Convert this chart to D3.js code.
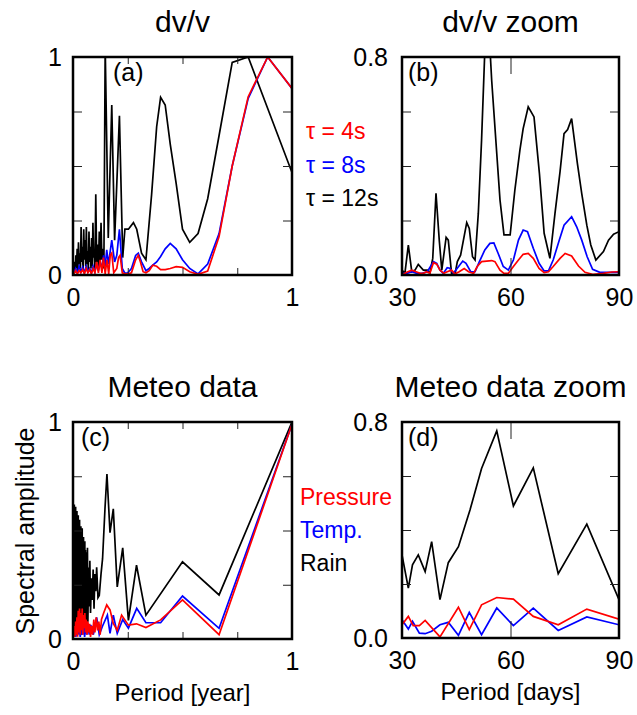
<!DOCTYPE html>
<html>
<head>
<meta charset="utf-8">
<script src="https://cdn.jsdelivr.net/npm/d3@7"></script>
<style>
  body { margin: 0; background: #fff; }
  svg { display: block; }
  text { font-family: "Liberation Sans", Arial, Helvetica, sans-serif; fill: #000; }
</style>
</head>
<body>
<svg id="fig" width="637" height="715"></svg>
<script>
// ---- Spectra of dv/v, [period in years, normalised amplitude] ----
const dvvTau12 = [
  [0.004,0.02],[0.007,0.06],[0.010,0.01],[0.013,0.09],[0.016,0.03],[0.019,0.12],[0.022,0.02],
  [0.025,0.15],[0.028,0.05],[0.031,0.10],[0.034,0.03],[0.037,0.22],[0.040,0.06],[0.043,0.13],
  [0.046,0.02],[0.049,0.21],[0.052,0.07],[0.055,0.16],[0.058,0.04],[0.061,0.22],[0.064,0.05],
  [0.067,0.11],[0.070,0.02],[0.073,0.20],[0.076,0.06],[0.079,0.13],[0.082,0.03],[0.085,0.17],
  [0.088,0.04],[0.091,0.24],[0.094,0.08],[0.097,0.10],[0.100,0.03],[0.104,0.37],[0.108,0.06],
  [0.112,0.14],[0.116,0.03],[0.120,0.20],[0.124,0.05],[0.128,0.24],[0.132,0.07],[0.136,0.12],
  [0.141,0.03],[0.147,1.05],[0.161,0.17],[0.177,0.78],[0.190,0.16],[0.212,0.73],[0.227,0.08],
  [0.237,0.21],[0.253,0.21],[0.276,0.24],[0.291,0.21],[0.313,0.10],[0.333,0.07],[0.359,0.37],
  [0.382,0.68],[0.400,0.815],[0.421,0.78],[0.444,0.60],[0.471,0.42],[0.500,0.21],[0.533,0.15],
  [0.571,0.19],[0.615,0.35],[0.667,0.64],[0.727,0.975],[0.800,1.00],[1.000,0.47]
];
const dvvTau8 = [
  [0.004,0.01],[0.012,0.03],[0.020,0.01],[0.028,0.04],[0.036,0.015],[0.044,0.035],[0.052,0.01],
  [0.060,0.04],[0.068,0.015],[0.076,0.03],[0.084,0.01],[0.092,0.04],[0.100,0.015],[0.108,0.05],
  [0.116,0.02],[0.124,0.06],[0.132,0.03],[0.140,0.09],[0.147,0.04],[0.154,0.115],[0.162,0.05],
  [0.177,0.16],[0.190,0.06],[0.200,0.09],[0.212,0.21],[0.225,0.03],[0.237,0.008],[0.250,0.01],
  [0.267,0.03],[0.286,0.09],[0.298,0.10],[0.313,0.06],[0.333,0.02],[0.348,0.03],[0.364,0.045],
  [0.382,0.06],[0.400,0.085],[0.421,0.12],[0.444,0.145],[0.471,0.12],[0.500,0.07],[0.533,0.03],
  [0.571,0.005],[0.615,0.05],[0.667,0.19],[0.727,0.50],[0.800,0.81],[0.889,1.00],[1.000,0.856]
];
const dvvTau4 = [
  [0.004,0.005],[0.012,0.02],[0.020,0.005],[0.028,0.02],[0.036,0.01],[0.044,0.025],[0.052,0.005],
  [0.060,0.03],[0.068,0.01],[0.076,0.025],[0.084,0.005],[0.092,0.03],[0.100,0.01],[0.108,0.06],
  [0.116,0.01],[0.124,0.07],[0.132,0.01],[0.139,0.08],[0.147,0.005],[0.155,0.07],[0.163,0.005],
  [0.170,0.09],[0.177,0.10],[0.186,0.01],[0.200,0.03],[0.208,0.08],[0.215,0.09],[0.225,0.01],
  [0.237,0.005],[0.250,0.005],[0.267,0.01],[0.286,0.07],[0.298,0.09],[0.308,0.06],[0.320,0.015],
  [0.333,0.01],[0.348,0.02],[0.364,0.045],[0.382,0.04],[0.400,0.025],[0.421,0.025],[0.444,0.03],
  [0.471,0.038],[0.500,0.035],[0.533,0.015],[0.571,0.003],[0.615,0.018],[0.667,0.176],
  [0.727,0.50],[0.800,0.818],[0.889,1.00],[1.000,0.856]
];

// ---- dv/v spectra, 30-90 day band, [period in days, amplitude] ----
const zoomTau12 = [
  [30,0.018],[30.8,0.006],[31.75,0.11],[32.7,0.012],[33.6,0.018],[34.5,0.039],[35.9,0.018],
  [37.0,0.018],[37.7,0.006],[38.5,0.061],[39.4,0.30],[40.3,0.128],[41.0,0.018],[42.2,0.138],
  [42.8,0.128],[43.7,0.006],[44.7,0.006],[45.3,0.049],[46.2,0.073],[47.9,0.192],[48.6,0.171],
  [49.5,0.067],[50.2,0.055],[51.1,0.226],[52.0,0.495],[53.0,0.86],[54.2,0.86],[54.8,0.714],
  [56.2,0.446],[57.1,0.275],[58.2,0.147],[59.9,0.147],[61.2,0.311],[62.6,0.458],[63.5,0.537],
  [64.9,0.617],[66.5,0.58],[68.0,0.372],[69.3,0.153],[70.9,0.061],[72.3,0.226],[73.7,0.379],
  [74.8,0.519],[75.8,0.534],[76.9,0.574],[78.5,0.409],[79.7,0.299],[81.1,0.183],[82.2,0.11],
  [83.6,0.055],[85.7,0.086],[87.1,0.128],[88.5,0.15],[90,0.159]
];
const zoomTau8 = [
  [30,0.006],[31.4,0.006],[32.7,0.012],[34.1,0.006],[35.5,0.006],[37.0,0.012],[38.7,0.049],
  [39.6,0.043],[40.5,0.018],[41.4,0.006],[42.5,0.027],[43.2,0.025],[44.2,0.006],[45.6,0.03],
  [46.8,0.051],[47.7,0.043],[49.0,0.012],[50.2,0.012],[51.4,0.049],[52.9,0.092],[54.3,0.116],
  [55.4,0.118],[56.6,0.079],[58.0,0.031],[59.4,0.018],[60.8,0.055],[62.2,0.128],[63.5,0.165],
  [64.7,0.159],[66.3,0.098],[67.9,0.043],[69.3,0.015],[70.5,0.015],[71.8,0.055],[73.5,0.128],
  [74.8,0.183],[76.9,0.214],[78.3,0.177],[79.7,0.128],[81.2,0.067],[82.7,0.021],[84.7,0.01],
  [86.6,0.01],[90,0.01]
];
const zoomTau4 = [
  [30,0.0],[31.3,0.01],[32.7,0.018],[33.9,0.012],[35.0,0.006],[35.9,0.006],[36.8,0.012],
  [37.7,0.006],[38.7,0.045],[39.6,0.04],[40.5,0.018],[41.6,0.006],[42.5,0.012],[43.7,0.018],
  [44.6,0.004],[45.8,0.012],[47.2,0.024],[48.4,0.012],[49.8,0.006],[50.8,0.031],[52.0,0.049],
  [53.4,0.051],[54.8,0.053],[55.7,0.049],[57.1,0.018],[58.2,0.006],[59.4,0.006],[60.8,0.031],
  [62.2,0.055],[63.5,0.076],[64.9,0.079],[66.3,0.061],[67.9,0.024],[69.3,0.009],[70.5,0.012],
  [71.8,0.031],[73.7,0.061],[75.1,0.079],[76.9,0.07],[78.8,0.033],[80.6,0.01],[82.9,0.002],
  [85.7,0.006],[88.0,0.011],[90,0.012]
];

// ---- Meteorological spectra, [period in years, amplitude] ----
const meteoRain = [
  [0.0015,0.08],[0.003,0.60],[0.0045,0.04],[0.006,0.62],[0.0075,0.10],[0.009,0.58],[0.0105,0.03],
  [0.012,0.61],[0.0135,0.07],[0.015,0.57],[0.0165,0.12],[0.018,0.59],[0.0195,0.04],[0.021,0.55],
  [0.0225,0.09],[0.024,0.57],[0.0255,0.03],[0.027,0.53],[0.0285,0.11],[0.030,0.55],[0.0315,0.05],
  [0.033,0.50],[0.0345,0.08],[0.036,0.52],[0.0375,0.02],[0.039,0.49],[0.0405,0.10],[0.042,0.51],
  [0.0435,0.04],[0.045,0.46],[0.0465,0.12],[0.048,0.47],[0.0495,0.05],[0.051,0.43],[0.0525,0.09],
  [0.054,0.45],[0.0555,0.03],[0.057,0.41],[0.0585,0.12],[0.060,0.40],[0.0615,0.05],[0.063,0.37],
  [0.0645,0.10],[0.066,0.42],[0.068,0.08],[0.071,0.33],[0.074,0.15],[0.077,0.36],[0.080,0.12],
  [0.084,0.28],[0.088,0.18],[0.092,0.32],[0.096,0.14],[0.100,0.30],[0.104,0.22],[0.108,0.33],
  [0.114,0.19],[0.120,0.20],[0.128,0.30],[0.135,0.37],[0.146,0.60],[0.155,0.76],[0.169,0.49],
  [0.184,0.60],[0.202,0.24],[0.227,0.42],[0.253,0.086],[0.290,0.34],[0.333,0.11],[0.500,0.356],
  [0.667,0.203],[1.000,1.00]
];
const meteoTemp = [
  [0.003,0.01],[0.008,0.04],[0.013,0.01],[0.018,0.05],[0.023,0.02],[0.028,0.06],[0.033,0.01],
  [0.038,0.05],[0.043,0.02],[0.048,0.07],[0.053,0.01],[0.058,0.06],[0.063,0.02],[0.068,0.07],
  [0.074,0.02],[0.081,0.065],[0.093,0.02],[0.108,0.10],[0.120,0.02],[0.135,0.06],[0.157,0.11],
  [0.169,0.026],[0.184,0.11],[0.202,0.026],[0.227,0.09],[0.253,0.05],[0.291,0.141],[0.333,0.075],
  [0.400,0.075],[0.500,0.198],[0.667,0.049],[1.000,0.99]
];
const meteoPressure = [
  [0.003,0.02],[0.006,0.06],[0.009,0.01],[0.012,0.08],[0.015,0.02],[0.018,0.10],[0.021,0.01],
  [0.024,0.13],[0.027,0.03],[0.030,0.14],[0.033,0.02],[0.036,0.12],[0.039,0.04],[0.042,0.14],
  [0.045,0.02],[0.048,0.11],[0.051,0.05],[0.054,0.12],[0.057,0.03],[0.060,0.09],[0.064,0.02],
  [0.068,0.08],[0.072,0.03],[0.076,0.07],[0.080,0.01],[0.085,0.06],[0.090,0.02],[0.095,0.09],
  [0.100,0.03],[0.106,0.10],[0.112,0.04],[0.118,0.08],[0.124,0.02],[0.130,0.09],[0.140,0.12],
  [0.154,0.157],[0.169,0.134],[0.184,0.072],[0.202,0.04],[0.222,0.11],[0.253,0.064],[0.290,0.07],
  [0.333,0.053],[0.400,0.088],[0.500,0.18],[0.667,0.02],[1.000,0.99]
];

// ---- Meteorological spectra, 30-90 day band, [period in days, amplitude] ----
const zoomRain = [
  [30,0.308],[31.75,0.185],[32.9,0.271],[34.5,0.308],[36.4,0.246],[38.2,0.357],[40.5,0.142],
  [42.8,0.279],[45.6,0.338],[48.8,0.474],[52.0,0.628],[56.2,0.767],[60.8,0.489],[66.3,0.63],
  [73.2,0.238],[81.1,0.422],[90,0.142]
];
const zoomPressure = [
  [30,0.049],[31.75,0.08],[33.1,0.046],[34.8,0.046],[36.4,0.065],[40.5,0.004],[45.6,0.114],
  [48.6,0.031],[52.0,0.123],[56.2,0.15],[60.8,0.144],[66.3,0.08],[73.2,0.049],[81.1,0.107],
  [90,0.07]
];
const zoomTemp = [
  [30,0.068],[31.75,0.033],[32.9,0.062],[34.8,0.018],[36.4,0.016],[38.2,0.025],[40.5,0.049],
  [42.8,0.058],[45.6,0.01],[48.6,0.095],[52.0,0.012],[56.2,0.111],[60.8,0.046],[66.3,0.111],
  [73.2,0.028],[81.1,0.078],[90,0.049]
];

// ---- Axis ticks and labels ----
const yearTickLabels = [0, 1];
const yearInnerTicks = [0.25, 0.5, 0.75];
const unitTickLabels = [0, 1];
const unitInnerTicks = [0.25, 0.5, 0.75];
const dayTickLabels = [30, 60, 90];
const dayInnerTicks = [60];
const zoomAmpTickLabels = [0, 0.8];
const zoomAmpInnerTicks = [0.2, 0.4, 0.6];

const dvvLegend = ["\u03c4 = 4s", "\u03c4 = 8s", "\u03c4 = 12s"];
const meteoLegend = ["Pressure", "Temp.", "Rain"];
const RED = "#ff0000", BLUE = "#0000ff", BLACK = "#000000";

const svg = d3.select("#fig");

const panels = [
  { key: "a", title: "dv/v", box: [73, 57, 292, 275],
    xDomain: [0, 1], yDomain: [0, 1],
    xLabels: yearTickLabels, xFmt: d3.format("d"), xInner: yearInnerTicks, xInnerLen: 7,
    yLabels: unitTickLabels, yFmt: d3.format("d"), yInner: unitInnerTicks, yPad: 11,
    tag: [113, 81],
    series: [[dvvTau12, BLACK], [dvvTau8, BLUE], [dvvTau4, RED]] },
  { key: "b", title: "dv/v zoom", box: [402, 57, 619, 275],
    xDomain: [30, 90], yDomain: [0, 0.8],
    xLabels: dayTickLabels, xFmt: d3.format("d"), xInner: dayInnerTicks, xInnerLen: 17,
    yLabels: zoomAmpTickLabels, yFmt: d3.format(".1f"), yInner: zoomAmpInnerTicks, yPad: 14,
    tag: [408, 81],
    series: [[zoomTau12, BLACK], [zoomTau8, BLUE], [zoomTau4, RED]] },
  { key: "c", title: "Meteo data", box: [73, 422, 292, 639],
    xDomain: [0, 1], yDomain: [0, 1],
    xLabels: yearTickLabels, xFmt: d3.format("d"), xInner: yearInnerTicks, xInnerLen: 7,
    yLabels: unitTickLabels, yFmt: d3.format("d"), yInner: unitInnerTicks, yPad: 11,
    tag: [81, 446], xTitle: "Period [year]",
    series: [[meteoRain, BLACK], [meteoTemp, BLUE], [meteoPressure, RED]] },
  { key: "d", title: "Meteo data zoom", box: [402, 422, 619, 638],
    xDomain: [30, 90], yDomain: [0, 0.8],
    xLabels: dayTickLabels, xFmt: d3.format("d"), xInner: dayInnerTicks, xInnerLen: 17,
    yLabels: zoomAmpTickLabels, yFmt: d3.format(".1f"), yInner: zoomAmpInnerTicks, yPad: 14,
    tag: [408, 446], xTitle: "Period [days]",
    series: [[zoomRain, BLACK], [zoomTemp, BLUE], [zoomPressure, RED]] }
];

const TICK_FONT = 25;

panels.forEach(p => {
  const [x0, y0, x1, y1] = p.box;
  const x = d3.scaleLinear().domain(p.xDomain).range([x0, x1]);
  const y = d3.scaleLinear().domain(p.yDomain).range([y1, y0]);
  const g = svg.append("g").attr("class", "panel-" + p.key);

  g.append("clipPath").attr("id", "clip-" + p.key)
    .append("rect").attr("x", x0).attr("y", y0).attr("width", x1 - x0).attr("height", y1 - y0);

  // spectra
  const line = d3.line().x(d => x(d[0])).y(d => y(d[1]));
  const plot = g.append("g").attr("clip-path", `url(#clip-${p.key})`);
  p.series.forEach(([data, color]) => {
    plot.append("path").datum(data)
      .attr("d", line)
      .attr("fill", "none")
      .attr("stroke", color)
      .attr("stroke-width", 1.7)
      .attr("stroke-linejoin", "miter");
  });

  // inward minor ticks on all four sides
  const innerX = len => ax => ax.tickValues(p.xInner).tickSize(-len).tickFormat("");
  const innerY = ax => ax.tickValues(p.yInner).tickSize(-9).tickFormat("");
  const styleInner = sel => {
    sel.select(".domain").remove();
    sel.selectAll(".tick line").attr("stroke", "#222").attr("stroke-width", 1);
  };
  g.append("g").attr("transform", `translate(0,${y1})`).call(innerX(p.xInnerLen)(d3.axisBottom(x))).call(styleInner);
  g.append("g").attr("transform", `translate(0,${y0})`).call(innerX(p.xInnerLen)(d3.axisTop(x))).call(styleInner);
  g.append("g").attr("transform", `translate(${x0},0)`).call(innerY(d3.axisLeft(y))).call(styleInner);
  g.append("g").attr("transform", `translate(${x1},0)`).call(innerY(d3.axisRight(y))).call(styleInner);

  // tick labels
  const styleLabels = sel => {
    sel.select(".domain").remove();
    sel.selectAll(".tick line").remove();
    sel.selectAll(".tick text").attr("font-size", TICK_FONT).attr("font-family", null).attr("fill", "#000");
    sel.attr("font-family", null).attr("font-size", null);
  };
  g.append("g").attr("transform", `translate(0,${y1})`)
    .call(d3.axisBottom(x).tickValues(p.xLabels).tickFormat(p.xFmt).tickSize(0).tickPadding(13))
    .call(styleLabels);
  g.append("g").attr("transform", `translate(${x0},0)`)
    .call(d3.axisLeft(y).tickValues(p.yLabels).tickFormat(p.yFmt).tickSize(0).tickPadding(p.yPad))
    .call(styleLabels);

  // frame
  g.append("rect").attr("x", x0).attr("y", y0).attr("width", x1 - x0).attr("height", y1 - y0)
    .attr("fill", "none").attr("stroke", "#000").attr("stroke-width", 2.5);

  // panel tag
  g.append("text").attr("x", p.tag[0]).attr("y", p.tag[1]).attr("font-size", 25).text(`(${p.key})`);

  // title
  g.append("text").attr("x", (x0 + x1) / 2).attr("y", y0 - 25)
    .attr("text-anchor", "middle").attr("font-size", 30).text(p.title);

  if (p.xTitle) {
    g.append("text").attr("x", (x0 + x1) / 2).attr("y", y1 + 62)
      .attr("text-anchor", "middle").attr("font-size", 24).text(p.xTitle);
  }
});

// y-axis title
svg.append("text")
  .attr("transform", "translate(34,531) rotate(-90)")
  .attr("text-anchor", "middle").attr("font-size", 25)
  .text("Spectral amplitude");

// legends
const legendColors = [RED, BLUE, BLACK];
svg.append("g").selectAll("text").data(dvvLegend).join("text")
  .attr("x", 306).attr("y", (d, i) => [139, 173, 206][i])
  .attr("font-size", 23)
  .style("fill", (d, i) => legendColors[i])
  .text(d => d);
svg.append("g").selectAll("text").data(meteoLegend).join("text")
  .attr("x", 300).attr("y", (d, i) => [505, 538, 571][i])
  .attr("font-size", 23)
  .style("fill", (d, i) => legendColors[i])
  .text(d => d);
</script>
</body>
</html>
